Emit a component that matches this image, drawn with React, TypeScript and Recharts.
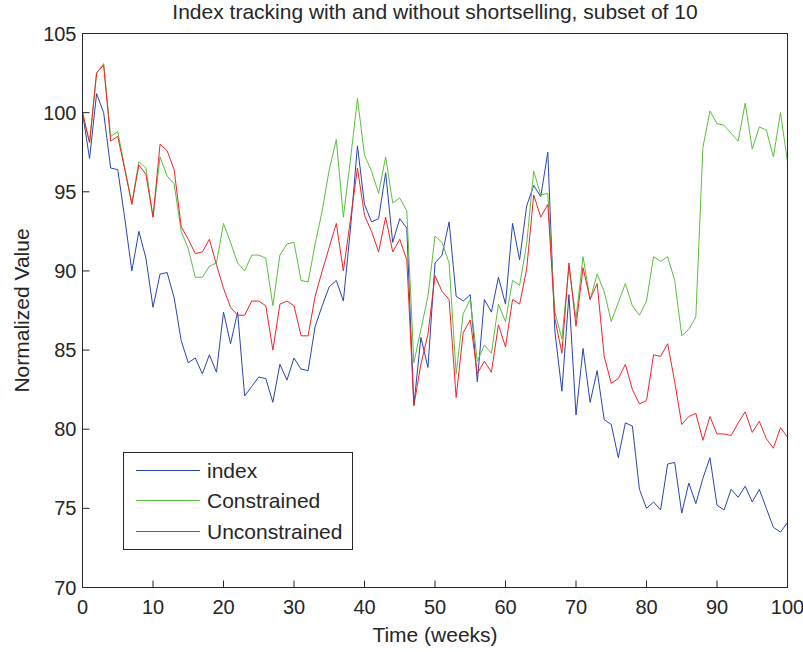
import React from 'react';
import {
    LineChart,
    Line,
    XAxis,
    YAxis,
    Legend,
    Label,
    ReferenceLine
} from 'recharts';

const weeks = [
    0, 1, 2, 3, 4, 5, 6, 7, 8, 9,
    10, 11, 12, 13, 14, 15, 16, 17, 18, 19,
    20, 21, 22, 23, 24, 25, 26, 27, 28, 29,
    30, 31, 32, 33, 34, 35, 36, 37, 38, 39,
    40, 41, 42, 43, 44, 45, 46, 47, 48, 49,
    50, 51, 52, 53, 54, 55, 56, 57, 58, 59,
    60, 61, 62, 63, 64, 65, 66, 67, 68, 69,
    70, 71, 72, 73, 74, 75, 76, 77, 78, 79,
    80, 81, 82, 83, 84, 85, 86, 87, 88, 89,
    90, 91, 92, 93, 94, 95, 96, 97, 98, 99,
    100
];

const indexValues = [
    100.0, 97.1, 101.2, 100.0, 96.5, 96.4, 93.3, 90.0, 92.5, 90.8,
    87.7, 89.8, 89.9, 88.3, 85.6, 84.2, 84.5, 83.5, 84.7, 83.6,
    87.4, 85.4, 87.4, 82.1, 82.7, 83.3, 83.2, 81.7, 84.1, 83.1,
    84.5, 83.8, 83.7, 86.5, 87.8, 89.0, 89.4, 88.1, 92.6, 97.9,
    94.2, 93.1, 93.3, 96.2, 91.8, 93.3, 92.7, 81.5, 85.8, 83.9,
    90.5, 91.0, 93.1, 88.4, 88.1, 88.5, 83.0, 88.2, 87.4, 89.6,
    87.9, 93.0, 90.7, 94.1, 95.4, 94.7, 97.5, 86.2, 82.4, 88.5,
    80.9, 85.1, 81.7, 83.7, 80.6, 80.3, 78.2, 80.4, 80.2, 76.2,
    75.0, 75.4, 74.9, 77.8, 77.9, 74.7, 76.6, 75.3, 76.9, 78.2,
    75.2, 74.9, 76.2, 75.7, 76.4, 75.4, 76.2, 75.0, 73.8, 73.5,
    74.1
];

const constrainedValues = [
    100.0, 98.1, 102.5, 103.1, 98.5, 98.8, 96.5, 94.3, 96.9, 96.5,
    93.4, 97.2, 96.0, 95.5, 92.5, 91.4, 89.6, 89.6, 90.3, 90.5,
    93.0, 91.8, 90.5, 90.0, 91.0, 91.0, 90.8, 87.8, 91.0, 91.7,
    91.8, 89.4, 89.3, 91.7, 93.8, 96.4, 98.3, 93.4, 97.0, 100.9,
    97.3, 96.3, 94.9, 97.2, 94.3, 94.6, 93.8, 84.2, 86.3, 88.4,
    92.2, 91.8, 90.5, 83.5, 87.3, 88.2, 84.3, 85.3, 84.8, 87.9,
    86.8, 89.4, 89.1, 91.7, 96.3, 94.8, 94.9, 87.4, 85.7, 90.3,
    87.0, 90.9, 88.2, 89.8, 88.7, 86.8, 88.0, 89.2, 87.8, 87.2,
    88.1, 90.9, 90.6, 90.9, 89.4, 85.9, 86.3, 87.1, 97.8, 100.1,
    99.3, 99.2, 98.7, 98.2, 100.6, 97.7, 99.1, 98.9, 97.2, 100.0,
    96.9
];

const unconstrainedValues = [
    100.0, 98.1, 102.5, 103.0, 98.2, 98.5, 96.4, 94.2, 96.7, 96.1,
    93.4, 98.0, 97.6, 96.4, 92.8, 92.0, 91.1, 91.2, 92.0, 90.4,
    88.9, 87.7, 87.2, 87.2, 88.1, 88.1, 87.8, 85.0, 87.9, 88.1,
    87.8, 85.9, 85.9, 88.4, 90.0, 91.5, 93.0, 90.0, 93.2, 96.5,
    93.5, 92.5, 91.2, 93.4, 91.2, 92.0, 90.7, 81.5, 84.1, 86.0,
    89.7, 88.7, 88.2, 82.0, 86.1, 86.9, 83.5, 84.3, 83.6, 86.6,
    85.2, 88.2, 87.9, 90.1, 94.8, 93.4, 94.2, 87.0, 84.8, 90.5,
    86.5, 90.2, 88.2, 89.2, 84.6, 82.9, 83.2, 84.1, 82.5, 81.6,
    81.8, 84.7, 84.6, 85.4, 83.0, 80.3, 80.8, 81.0, 79.3, 80.8,
    79.7, 79.7, 79.6, 80.4, 81.1, 79.8, 80.5, 79.4, 78.8, 80.1,
    79.5
];

const xTicks = [0, 10, 20, 30, 40, 50, 60, 70, 80, 90, 100];
const yTicks = [70, 75, 80, 85, 90, 95, 100, 105];

const series = [
    { key: 'index', name: 'index', color: '#2b45ad' },
    { key: 'constrained', name: 'Constrained', color: '#5cbf3f' },
    { key: 'unconstrained', name: 'Unconstrained', color: '#f0242b' }
];

const data = weeks.map((week, i) => ({
    week,
    index: indexValues[i],
    constrained: constrainedValues[i],
    unconstrained: unconstrainedValues[i]
}));

const FONT = '"Liberation Sans", Arial, Helvetica, sans-serif';
const INK = '#262626';

function LegendBox() {
    return (
        <div
            style={{
                boxSizing: 'border-box',
                width: 230,
                height: 98,
                border: `1px solid ${INK}`,
                background: '#fff',
                paddingTop: 2,
                paddingLeft: 12,
                fontFamily: FONT,
                fontSize: 21,
                color: INK
            }}
        >
            {series.map((s) => (
                <div key={s.key} style={{ display: 'flex', alignItems: 'center', height: 30.5 }}>
                    <div style={{ width: 64, height: 0, borderTop: `1px solid ${s.color}` }} />
                    <span style={{ marginLeft: 7, lineHeight: '21px' }}>{s.name}</span>
                </div>
            ))}
        </div>
    );
}

export default function App() {
    return (
        <div style={{ position: 'absolute', left: 0, top: 0, width: 803, height: 652, background: '#fff' }}>
            <div
                style={{
                    position: 'absolute',
                    left: 82.5,
                    top: 0,
                    width: 705,
                    textAlign: 'center',
                    fontFamily: FONT,
                    fontSize: 21,
                    lineHeight: '23px',
                    color: INK,
                    zIndex: 2
                }}
            >
                Index tracking with and without shortselling, subset of 10
            </div>
            <LineChart
                width={803}
                height={652}
                data={data}
                margin={{ top: 32.5, right: 14.5, bottom: 0, left: 0.5 }}
                style={{ fontFamily: FONT }}
            >
                <XAxis
                    dataKey="week"
                    type="number"
                    domain={[0, 100]}
                    ticks={xTicks}
                    interval={0}
                    height={64.5}
                    tickSize={-7}
                    tickMargin={19}
                    tickLine={{ stroke: INK }}
                    axisLine={{ stroke: INK }}
                    tick={{ fill: INK, fontSize: 20 }}
                >
                    <Label value="Time (weeks)" position="insideBottom" offset={10.5} fill={INK} fontSize={21} />
                </XAxis>
                <XAxis
                    xAxisId="top"
                    dataKey="week"
                    type="number"
                    domain={[0, 100]}
                    ticks={xTicks}
                    interval={0}
                    orientation="top"
                    height={1}
                    tick={false}
                    tickSize={-7}
                    tickLine={{ stroke: INK }}
                    axisLine={{ stroke: INK }}
                />
                <YAxis
                    type="number"
                    domain={[70, 105]}
                    ticks={yTicks}
                    interval={0}
                    width={82}
                    tickSize={-7}
                    tickMargin={13}
                    tickLine={{ stroke: INK }}
                    axisLine={{ stroke: INK }}
                    tick={{ fill: INK, fontSize: 20 }}
                >
                    <Label value="Normalized Value" angle={-90} position="center" dx={-19.5} fill={INK} fontSize={21} />
                </YAxis>
                <YAxis
                    yAxisId="right"
                    type="number"
                    domain={[70, 105]}
                    ticks={yTicks}
                    interval={0}
                    orientation="right"
                    width={1}
                    tick={false}
                    tickSize={-7}
                    tickLine={{ stroke: INK }}
                    axisLine={{ stroke: INK }}
                />
                <ReferenceLine y={105} stroke={INK} ifOverflow="visible" />
                <ReferenceLine x={100} stroke={INK} ifOverflow="visible" />
                <Legend
                    layout="vertical"
                    align="center"
                    verticalAlign="middle"
                    content={() => <LegendBox />}
                    wrapperStyle={{ left: 123, top: 452, width: 230, height: 98 }}
                />
                {series.map((s) => (
                    <Line
                        key={s.key}
                        type="linear"
                        dataKey={s.key}
                        name={s.name}
                        stroke={s.color}
                        strokeWidth={1}
                        dot={false}
                        activeDot={false}
                        isAnimationActive={false}
                    />
                ))}
            </LineChart>
        </div>
    );
}
